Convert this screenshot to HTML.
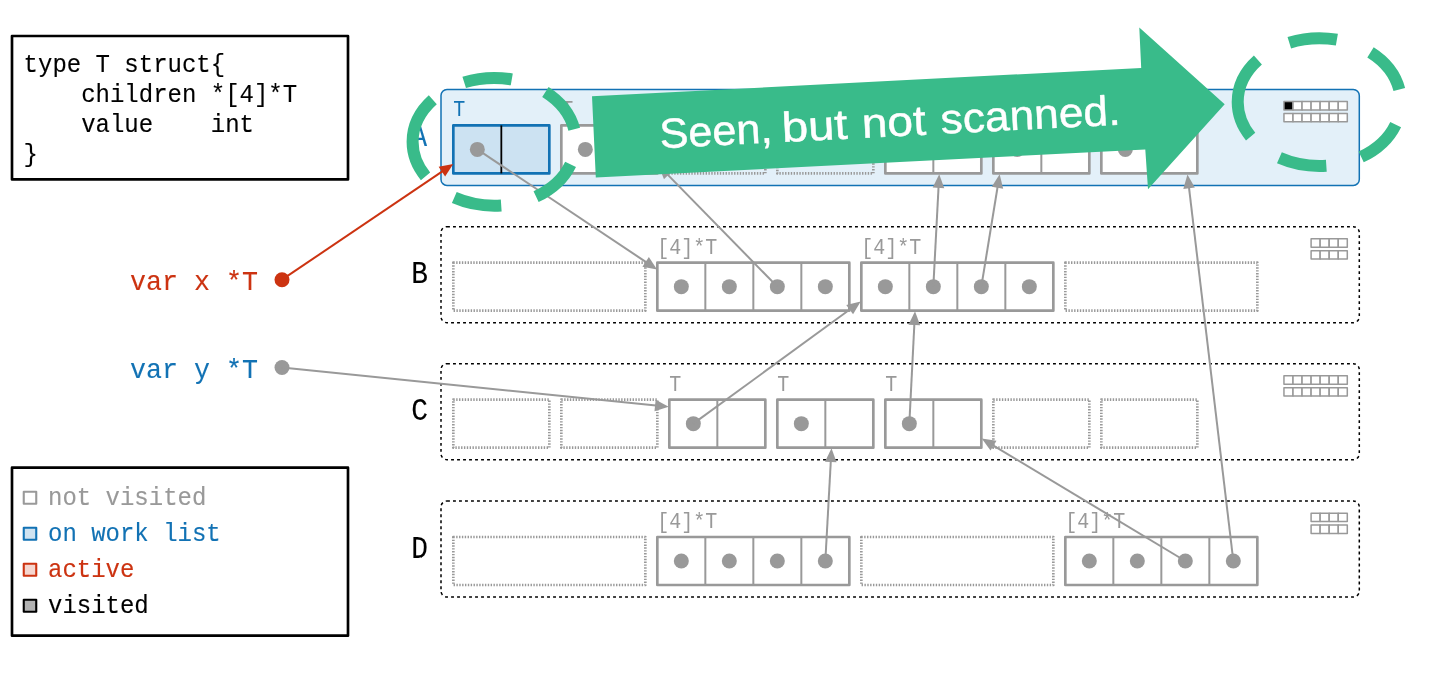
<!DOCTYPE html>
<html lang="en">
<head>
<meta charset="utf-8">
<title>Seen, but not scanned.</title>
<style>
html,body{margin:0;padding:0;background:#ffffff;}
body{width:1440px;height:675px;overflow:hidden;}
svg{will-change:transform;}
svg text{white-space:pre;stroke-linejoin:round;}
svg rect{stroke-linejoin:round;}
svg text.m{stroke-width:0.12px;}
</style>
</head>
<body>
<svg width="1440" height="675" viewBox="0 0 1440 675" style="display:block;font-family:'Liberation Mono', 'DejaVu Sans Mono', monospace">
<rect x="0" y="0" width="1440" height="675" fill="#ffffff"/>
<rect x="12" y="36" width="336" height="143.4" fill="#ffffff" stroke="#000000" stroke-width="2.67"/>
<text class="m" transform="translate(23.60,71.70) scale(1.0,1.06)" font-size="24" fill="#000000" stroke="#000000" xml:space="preserve">type T struct{</text>
<text class="m" transform="translate(23.60,101.70) scale(1.0,1.06)" font-size="24" fill="#000000" stroke="#000000" xml:space="preserve">    children *[4]*T</text>
<text class="m" transform="translate(23.60,131.70) scale(1.0,1.06)" font-size="24" fill="#000000" stroke="#000000" xml:space="preserve">    value    int</text>
<text class="m" transform="translate(23.60,161.70) scale(1.0,1.06)" font-size="24" fill="#000000" stroke="#000000" xml:space="preserve">}</text>
<rect x="12" y="467.7" width="336" height="168" fill="#ffffff" stroke="#000000" stroke-width="2.67"/>
<rect x="23.75" y="491.70" width="12.5" height="12.1" fill="#ffffff" stroke="#999999" stroke-width="2.1"/>
<text class="m" transform="translate(48.00,505.00) scale(1.0,1.06)" font-size="24" fill="#999999" stroke="#999999" xml:space="preserve">not visited</text>
<rect x="23.75" y="527.70" width="12.5" height="12.1" fill="#cfe3f1" stroke="#1272b4" stroke-width="2.1"/>
<text class="m" transform="translate(48.00,541.00) scale(1.0,1.06)" font-size="24" fill="#1272b4" stroke="#1272b4" xml:space="preserve">on work list</text>
<rect x="23.75" y="563.70" width="12.5" height="12.1" fill="#f5d6cf" stroke="#cc3311" stroke-width="2.1"/>
<text class="m" transform="translate(48.00,577.00) scale(1.0,1.06)" font-size="24" fill="#cc3311" stroke="#cc3311" xml:space="preserve">active</text>
<rect x="23.75" y="599.70" width="12.5" height="12.1" fill="#b3b3b3" stroke="#000000" stroke-width="2.1"/>
<text class="m" transform="translate(48.00,613.00) scale(1.0,1.06)" font-size="24" fill="#000000" stroke="#000000" xml:space="preserve">visited</text>
<text class="m" transform="translate(130.00,289.70) scale(1.0,1.06)" font-size="26.67" fill="#cc3311" stroke="#cc3311" xml:space="preserve">var x *T</text>
<text class="m" transform="translate(130.00,377.50) scale(1.0,1.06)" font-size="26.67" fill="#1272b4" stroke="#1272b4" xml:space="preserve">var y *T</text>
<rect x="441" y="89.4" width="918.3" height="96" rx="6" ry="6" fill="#e3f0f9" stroke="#1272b4" stroke-width="1.5"/>
<rect x="441" y="226.67" width="918.3" height="96" rx="6" ry="6" fill="none" stroke="#000000" stroke-width="1.5" stroke-dasharray="2.9 3.1"/>
<rect x="441" y="363.67" width="918.3" height="96" rx="6" ry="6" fill="none" stroke="#000000" stroke-width="1.5" stroke-dasharray="2.9 3.1"/>
<rect x="441" y="501.0" width="918.3" height="96" rx="6" ry="6" fill="none" stroke="#000000" stroke-width="1.5" stroke-dasharray="2.9 3.1"/>
<text class="m" transform="translate(411.2,146.00) scale(0.9,1.08)" font-size="29.33" fill="#1272b4" stroke="#1272b4">A</text>
<text class="m" transform="translate(411.2,283.27) scale(0.95,1.08)" font-size="29.33" fill="#000000" stroke="#000000">B</text>
<text class="m" transform="translate(411.2,420.27) scale(0.95,1.08)" font-size="29.33" fill="#000000" stroke="#000000">C</text>
<text class="m" transform="translate(411.2,557.60) scale(0.95,1.08)" font-size="29.33" fill="#000000" stroke="#000000">D</text>
<rect x="1283.95" y="101.60" width="9.05" height="8.4" fill="#000000" stroke="#999999" stroke-width="1.5"/>
<rect x="1293.00" y="101.60" width="9.05" height="8.4" fill="#ffffff" stroke="#999999" stroke-width="1.5"/>
<rect x="1302.05" y="101.60" width="9.05" height="8.4" fill="#ffffff" stroke="#999999" stroke-width="1.5"/>
<rect x="1311.10" y="101.60" width="9.05" height="8.4" fill="#ffffff" stroke="#999999" stroke-width="1.5"/>
<rect x="1320.15" y="101.60" width="9.05" height="8.4" fill="#ffffff" stroke="#999999" stroke-width="1.5"/>
<rect x="1329.20" y="101.60" width="9.05" height="8.4" fill="#ffffff" stroke="#999999" stroke-width="1.5"/>
<rect x="1338.25" y="101.60" width="9.05" height="8.4" fill="#ffffff" stroke="#999999" stroke-width="1.5"/>
<rect x="1283.95" y="113.40" width="9.05" height="8.4" fill="#ffffff" stroke="#999999" stroke-width="1.5"/>
<rect x="1293.00" y="113.40" width="9.05" height="8.4" fill="#ffffff" stroke="#999999" stroke-width="1.5"/>
<rect x="1302.05" y="113.40" width="9.05" height="8.4" fill="#ffffff" stroke="#999999" stroke-width="1.5"/>
<rect x="1311.10" y="113.40" width="9.05" height="8.4" fill="#ffffff" stroke="#999999" stroke-width="1.5"/>
<rect x="1320.15" y="113.40" width="9.05" height="8.4" fill="#ffffff" stroke="#999999" stroke-width="1.5"/>
<rect x="1329.20" y="113.40" width="9.05" height="8.4" fill="#ffffff" stroke="#999999" stroke-width="1.5"/>
<rect x="1338.25" y="113.40" width="9.05" height="8.4" fill="#ffffff" stroke="#999999" stroke-width="1.5"/>
<rect x="1311.10" y="238.87" width="9.05" height="8.4" fill="#ffffff" stroke="#999999" stroke-width="1.5"/>
<rect x="1320.15" y="238.87" width="9.05" height="8.4" fill="#ffffff" stroke="#999999" stroke-width="1.5"/>
<rect x="1329.20" y="238.87" width="9.05" height="8.4" fill="#ffffff" stroke="#999999" stroke-width="1.5"/>
<rect x="1338.25" y="238.87" width="9.05" height="8.4" fill="#ffffff" stroke="#999999" stroke-width="1.5"/>
<rect x="1311.10" y="250.67" width="9.05" height="8.4" fill="#ffffff" stroke="#999999" stroke-width="1.5"/>
<rect x="1320.15" y="250.67" width="9.05" height="8.4" fill="#ffffff" stroke="#999999" stroke-width="1.5"/>
<rect x="1329.20" y="250.67" width="9.05" height="8.4" fill="#ffffff" stroke="#999999" stroke-width="1.5"/>
<rect x="1338.25" y="250.67" width="9.05" height="8.4" fill="#ffffff" stroke="#999999" stroke-width="1.5"/>
<rect x="1283.95" y="375.87" width="9.05" height="8.4" fill="#ffffff" stroke="#999999" stroke-width="1.5"/>
<rect x="1293.00" y="375.87" width="9.05" height="8.4" fill="#ffffff" stroke="#999999" stroke-width="1.5"/>
<rect x="1302.05" y="375.87" width="9.05" height="8.4" fill="#ffffff" stroke="#999999" stroke-width="1.5"/>
<rect x="1311.10" y="375.87" width="9.05" height="8.4" fill="#ffffff" stroke="#999999" stroke-width="1.5"/>
<rect x="1320.15" y="375.87" width="9.05" height="8.4" fill="#ffffff" stroke="#999999" stroke-width="1.5"/>
<rect x="1329.20" y="375.87" width="9.05" height="8.4" fill="#ffffff" stroke="#999999" stroke-width="1.5"/>
<rect x="1338.25" y="375.87" width="9.05" height="8.4" fill="#ffffff" stroke="#999999" stroke-width="1.5"/>
<rect x="1283.95" y="387.67" width="9.05" height="8.4" fill="#ffffff" stroke="#999999" stroke-width="1.5"/>
<rect x="1293.00" y="387.67" width="9.05" height="8.4" fill="#ffffff" stroke="#999999" stroke-width="1.5"/>
<rect x="1302.05" y="387.67" width="9.05" height="8.4" fill="#ffffff" stroke="#999999" stroke-width="1.5"/>
<rect x="1311.10" y="387.67" width="9.05" height="8.4" fill="#ffffff" stroke="#999999" stroke-width="1.5"/>
<rect x="1320.15" y="387.67" width="9.05" height="8.4" fill="#ffffff" stroke="#999999" stroke-width="1.5"/>
<rect x="1329.20" y="387.67" width="9.05" height="8.4" fill="#ffffff" stroke="#999999" stroke-width="1.5"/>
<rect x="1338.25" y="387.67" width="9.05" height="8.4" fill="#ffffff" stroke="#999999" stroke-width="1.5"/>
<rect x="1311.10" y="513.20" width="9.05" height="8.4" fill="#ffffff" stroke="#999999" stroke-width="1.5"/>
<rect x="1320.15" y="513.20" width="9.05" height="8.4" fill="#ffffff" stroke="#999999" stroke-width="1.5"/>
<rect x="1329.20" y="513.20" width="9.05" height="8.4" fill="#ffffff" stroke="#999999" stroke-width="1.5"/>
<rect x="1338.25" y="513.20" width="9.05" height="8.4" fill="#ffffff" stroke="#999999" stroke-width="1.5"/>
<rect x="1311.10" y="525.00" width="9.05" height="8.4" fill="#ffffff" stroke="#999999" stroke-width="1.5"/>
<rect x="1320.15" y="525.00" width="9.05" height="8.4" fill="#ffffff" stroke="#999999" stroke-width="1.5"/>
<rect x="1329.20" y="525.00" width="9.05" height="8.4" fill="#ffffff" stroke="#999999" stroke-width="1.5"/>
<rect x="1338.25" y="525.00" width="9.05" height="8.4" fill="#ffffff" stroke="#999999" stroke-width="1.5"/>
<rect x="453.33" y="125.40" width="96" height="48" fill="#cce2f2" stroke="#1272b4" stroke-width="2.67"/>
<line x1="501.33" y1="125.40" x2="501.33" y2="173.40" stroke="#000000" stroke-width="1.8"/>
<text transform="translate(453.33,115.90) scale(1,1.06)" font-size="20" fill="#1272b4" xml:space="preserve">T</text>
<rect x="561.33" y="125.40" width="96" height="48" fill="#ffffff" stroke="#999999" stroke-width="2.67"/>
<line x1="609.33" y1="125.40" x2="609.33" y2="173.40" stroke="#999999" stroke-width="2"/>
<text transform="translate(561.33,115.90) scale(1,1.06)" font-size="20" fill="#999999" xml:space="preserve">T</text>
<rect x="669.33" y="125.40" width="96" height="48" fill="none" stroke="#999999" stroke-width="2.67" stroke-dasharray="1.4 1.45"/>
<rect x="777.33" y="125.40" width="96" height="48" fill="none" stroke="#999999" stroke-width="2.67" stroke-dasharray="1.4 1.45"/>
<rect x="885.33" y="125.40" width="96" height="48" fill="#ffffff" stroke="#999999" stroke-width="2.67"/>
<line x1="933.33" y1="125.40" x2="933.33" y2="173.40" stroke="#999999" stroke-width="2"/>
<text transform="translate(885.33,115.90) scale(1,1.06)" font-size="20" fill="#999999" xml:space="preserve">T</text>
<rect x="993.33" y="125.40" width="96" height="48" fill="#ffffff" stroke="#999999" stroke-width="2.67"/>
<line x1="1041.33" y1="125.40" x2="1041.33" y2="173.40" stroke="#999999" stroke-width="2"/>
<text transform="translate(993.33,115.90) scale(1,1.06)" font-size="20" fill="#999999" xml:space="preserve">T</text>
<rect x="1101.33" y="125.40" width="96" height="48" fill="#ffffff" stroke="#999999" stroke-width="2.67"/>
<line x1="1149.33" y1="125.40" x2="1149.33" y2="173.40" stroke="#999999" stroke-width="2"/>
<text transform="translate(1101.33,115.90) scale(1,1.06)" font-size="20" fill="#999999" xml:space="preserve">T</text>
<rect x="453.33" y="262.67" width="192" height="48" fill="none" stroke="#999999" stroke-width="2.67" stroke-dasharray="1.4 1.45"/>
<rect x="657.33" y="262.67" width="192" height="48" fill="#ffffff" stroke="#999999" stroke-width="2.67"/>
<line x1="705.33" y1="262.67" x2="705.33" y2="310.67" stroke="#999999" stroke-width="2"/>
<line x1="753.33" y1="262.67" x2="753.33" y2="310.67" stroke="#999999" stroke-width="2"/>
<line x1="801.33" y1="262.67" x2="801.33" y2="310.67" stroke="#999999" stroke-width="2"/>
<text transform="translate(657.33,253.67) scale(1,1.06)" font-size="20" fill="#999999" xml:space="preserve">[4]*T</text>
<rect x="861.33" y="262.67" width="192" height="48" fill="#ffffff" stroke="#999999" stroke-width="2.67"/>
<line x1="909.33" y1="262.67" x2="909.33" y2="310.67" stroke="#999999" stroke-width="2"/>
<line x1="957.33" y1="262.67" x2="957.33" y2="310.67" stroke="#999999" stroke-width="2"/>
<line x1="1005.33" y1="262.67" x2="1005.33" y2="310.67" stroke="#999999" stroke-width="2"/>
<text transform="translate(861.33,253.67) scale(1,1.06)" font-size="20" fill="#999999" xml:space="preserve">[4]*T</text>
<rect x="1065.33" y="262.67" width="192" height="48" fill="none" stroke="#999999" stroke-width="2.67" stroke-dasharray="1.4 1.45"/>
<rect x="453.33" y="399.67" width="96" height="48" fill="none" stroke="#999999" stroke-width="2.67" stroke-dasharray="1.4 1.45"/>
<rect x="561.33" y="399.67" width="96" height="48" fill="none" stroke="#999999" stroke-width="2.67" stroke-dasharray="1.4 1.45"/>
<rect x="669.33" y="399.67" width="96" height="48" fill="#ffffff" stroke="#999999" stroke-width="2.67"/>
<line x1="717.33" y1="399.67" x2="717.33" y2="447.67" stroke="#999999" stroke-width="2"/>
<text transform="translate(669.33,390.67) scale(1,1.06)" font-size="20" fill="#999999" xml:space="preserve">T</text>
<rect x="777.33" y="399.67" width="96" height="48" fill="#ffffff" stroke="#999999" stroke-width="2.67"/>
<line x1="825.33" y1="399.67" x2="825.33" y2="447.67" stroke="#999999" stroke-width="2"/>
<text transform="translate(777.33,390.67) scale(1,1.06)" font-size="20" fill="#999999" xml:space="preserve">T</text>
<rect x="885.33" y="399.67" width="96" height="48" fill="#ffffff" stroke="#999999" stroke-width="2.67"/>
<line x1="933.33" y1="399.67" x2="933.33" y2="447.67" stroke="#999999" stroke-width="2"/>
<text transform="translate(885.33,390.67) scale(1,1.06)" font-size="20" fill="#999999" xml:space="preserve">T</text>
<rect x="993.33" y="399.67" width="96" height="48" fill="none" stroke="#999999" stroke-width="2.67" stroke-dasharray="1.4 1.45"/>
<rect x="1101.33" y="399.67" width="96" height="48" fill="none" stroke="#999999" stroke-width="2.67" stroke-dasharray="1.4 1.45"/>
<rect x="453.33" y="537.00" width="192" height="48" fill="none" stroke="#999999" stroke-width="2.67" stroke-dasharray="1.4 1.45"/>
<rect x="657.33" y="537.00" width="192" height="48" fill="#ffffff" stroke="#999999" stroke-width="2.67"/>
<line x1="705.33" y1="537.00" x2="705.33" y2="585.00" stroke="#999999" stroke-width="2"/>
<line x1="753.33" y1="537.00" x2="753.33" y2="585.00" stroke="#999999" stroke-width="2"/>
<line x1="801.33" y1="537.00" x2="801.33" y2="585.00" stroke="#999999" stroke-width="2"/>
<text transform="translate(657.33,528.00) scale(1,1.06)" font-size="20" fill="#999999" xml:space="preserve">[4]*T</text>
<rect x="861.33" y="537.00" width="192" height="48" fill="none" stroke="#999999" stroke-width="2.67" stroke-dasharray="1.4 1.45"/>
<rect x="1065.33" y="537.00" width="192" height="48" fill="#ffffff" stroke="#999999" stroke-width="2.67"/>
<line x1="1113.33" y1="537.00" x2="1113.33" y2="585.00" stroke="#999999" stroke-width="2"/>
<line x1="1161.33" y1="537.00" x2="1161.33" y2="585.00" stroke="#999999" stroke-width="2"/>
<line x1="1209.33" y1="537.00" x2="1209.33" y2="585.00" stroke="#999999" stroke-width="2"/>
<text transform="translate(1065.33,528.00) scale(1,1.06)" font-size="20" fill="#999999" xml:space="preserve">[4]*T</text>
<circle cx="477.33" cy="149.40" r="7.5" fill="#999999"/>
<circle cx="585.33" cy="149.40" r="7.5" fill="#999999"/>
<circle cx="909.33" cy="149.40" r="7.5" fill="#999999"/>
<circle cx="1017.33" cy="149.40" r="7.5" fill="#999999"/>
<circle cx="1125.33" cy="149.40" r="7.5" fill="#999999"/>
<circle cx="681.33" cy="286.67" r="7.5" fill="#999999"/>
<circle cx="729.33" cy="286.67" r="7.5" fill="#999999"/>
<circle cx="777.33" cy="286.67" r="7.5" fill="#999999"/>
<circle cx="825.33" cy="286.67" r="7.5" fill="#999999"/>
<circle cx="885.33" cy="286.67" r="7.5" fill="#999999"/>
<circle cx="933.33" cy="286.67" r="7.5" fill="#999999"/>
<circle cx="981.33" cy="286.67" r="7.5" fill="#999999"/>
<circle cx="1029.33" cy="286.67" r="7.5" fill="#999999"/>
<circle cx="693.33" cy="423.67" r="7.5" fill="#999999"/>
<circle cx="801.33" cy="423.67" r="7.5" fill="#999999"/>
<circle cx="909.33" cy="423.67" r="7.5" fill="#999999"/>
<circle cx="681.33" cy="561.00" r="7.5" fill="#999999"/>
<circle cx="729.33" cy="561.00" r="7.5" fill="#999999"/>
<circle cx="777.33" cy="561.00" r="7.5" fill="#999999"/>
<circle cx="825.33" cy="561.00" r="7.5" fill="#999999"/>
<circle cx="1089.33" cy="561.00" r="7.5" fill="#999999"/>
<circle cx="1137.33" cy="561.00" r="7.5" fill="#999999"/>
<circle cx="1185.33" cy="561.00" r="7.5" fill="#999999"/>
<circle cx="1233.33" cy="561.00" r="7.5" fill="#999999"/>
<circle cx="282.00" cy="279.70" r="7.5" fill="#cc3311"/>
<circle cx="282.00" cy="367.50" r="7.5" fill="#999999"/>
<line x1="282.00" y1="279.70" x2="442.71" y2="171.09" stroke="#cc3311" stroke-width="2"/>
<polygon points="453.23,163.98 445.13,176.45 438.63,166.84" fill="#cc3311"/>
<line x1="282.00" y1="367.50" x2="656.06" y2="405.56" stroke="#999999" stroke-width="2"/>
<polygon points="668.70,406.84 654.48,411.22 655.66,399.68" fill="#999999"/>
<line x1="477.33" y1="149.40" x2="646.47" y2="262.37" stroke="#999999" stroke-width="2"/>
<polygon points="657.03,269.42 642.42,266.64 648.86,256.99" fill="#999999"/>
<line x1="777.33" y1="286.67" x2="667.40" y2="174.39" stroke="#999999" stroke-width="2"/>
<polygon points="658.52,165.31 672.25,171.05 663.96,179.16" fill="#999999"/>
<line x1="933.33" y1="286.67" x2="938.56" y2="186.88" stroke="#999999" stroke-width="2"/>
<polygon points="939.22,174.20 944.30,188.19 932.71,187.58" fill="#999999"/>
<line x1="981.33" y1="286.67" x2="997.62" y2="186.74" stroke="#999999" stroke-width="2"/>
<polygon points="999.66,174.21 1003.18,188.66 991.74,186.79" fill="#999999"/>
<line x1="1233.33" y1="561.00" x2="1188.95" y2="187.21" stroke="#999999" stroke-width="2"/>
<polygon points="1187.45,174.60 1194.83,187.52 1183.31,188.89" fill="#999999"/>
<line x1="693.33" y1="423.67" x2="850.46" y2="309.05" stroke="#999999" stroke-width="2"/>
<polygon points="860.72,301.56 853.07,314.32 846.24,304.95" fill="#999999"/>
<line x1="909.33" y1="423.67" x2="914.38" y2="323.98" stroke="#999999" stroke-width="2"/>
<polygon points="915.02,311.30 920.12,325.28 908.53,324.69" fill="#999999"/>
<line x1="825.33" y1="561.00" x2="830.82" y2="461.03" stroke="#999999" stroke-width="2"/>
<polygon points="831.52,448.35 836.56,462.35 824.98,461.71" fill="#999999"/>
<line x1="1185.33" y1="561.00" x2="992.64" y2="445.09" stroke="#999999" stroke-width="2"/>
<polygon points="981.76,438.54 996.49,440.64 990.51,450.58" fill="#999999"/>
<path d="M 412.60 141.80 A 81.6 63.9 0 0 1 494.20 77.90 A 81.6 63.9 0 0 1 575.80 141.80 A 81.6 63.9 0 0 1 494.20 205.70 A 81.6 63.9 0 0 1 412.60 141.80" fill="none" stroke="#39bb8a" stroke-width="12" stroke-dasharray="48.1 36"/>
<path d="M 1237.70 102.10 A 81.6 63.9 0 0 1 1319.30 38.20 A 81.6 63.9 0 0 1 1400.90 102.10 A 81.6 63.9 0 0 1 1319.30 166.00 A 81.6 63.9 0 0 1 1237.70 102.10" fill="none" stroke="#39bb8a" stroke-width="12" stroke-dasharray="48.1 36"/>
<polygon points="592,96.3 1141.2,68 1139.3,27.5 1224.7,104.3 1148,189.2 1145.3,149.5 595.8,177.5" fill="#39bb8a"/>
<text transform="translate(658.1,148.37) rotate(-2.94)" font-size="42" fill="#ffffff" stroke="#ffffff" stroke-width="0.45" style="font-family:'Liberation Sans', 'DejaVu Sans', sans-serif"><tspan x="2.05" y="0" textLength="112.94" lengthAdjust="spacingAndGlyphs">Seen,</tspan> <tspan x="124.51" y="0" textLength="65.84" lengthAdjust="spacingAndGlyphs">but</tspan> <tspan x="204.58" y="0" textLength="64.10" lengthAdjust="spacingAndGlyphs">not</tspan> <tspan x="283.62" y="0" textLength="179.93" lengthAdjust="spacingAndGlyphs">scanned.</tspan></text>
</svg>
</body>
</html>
